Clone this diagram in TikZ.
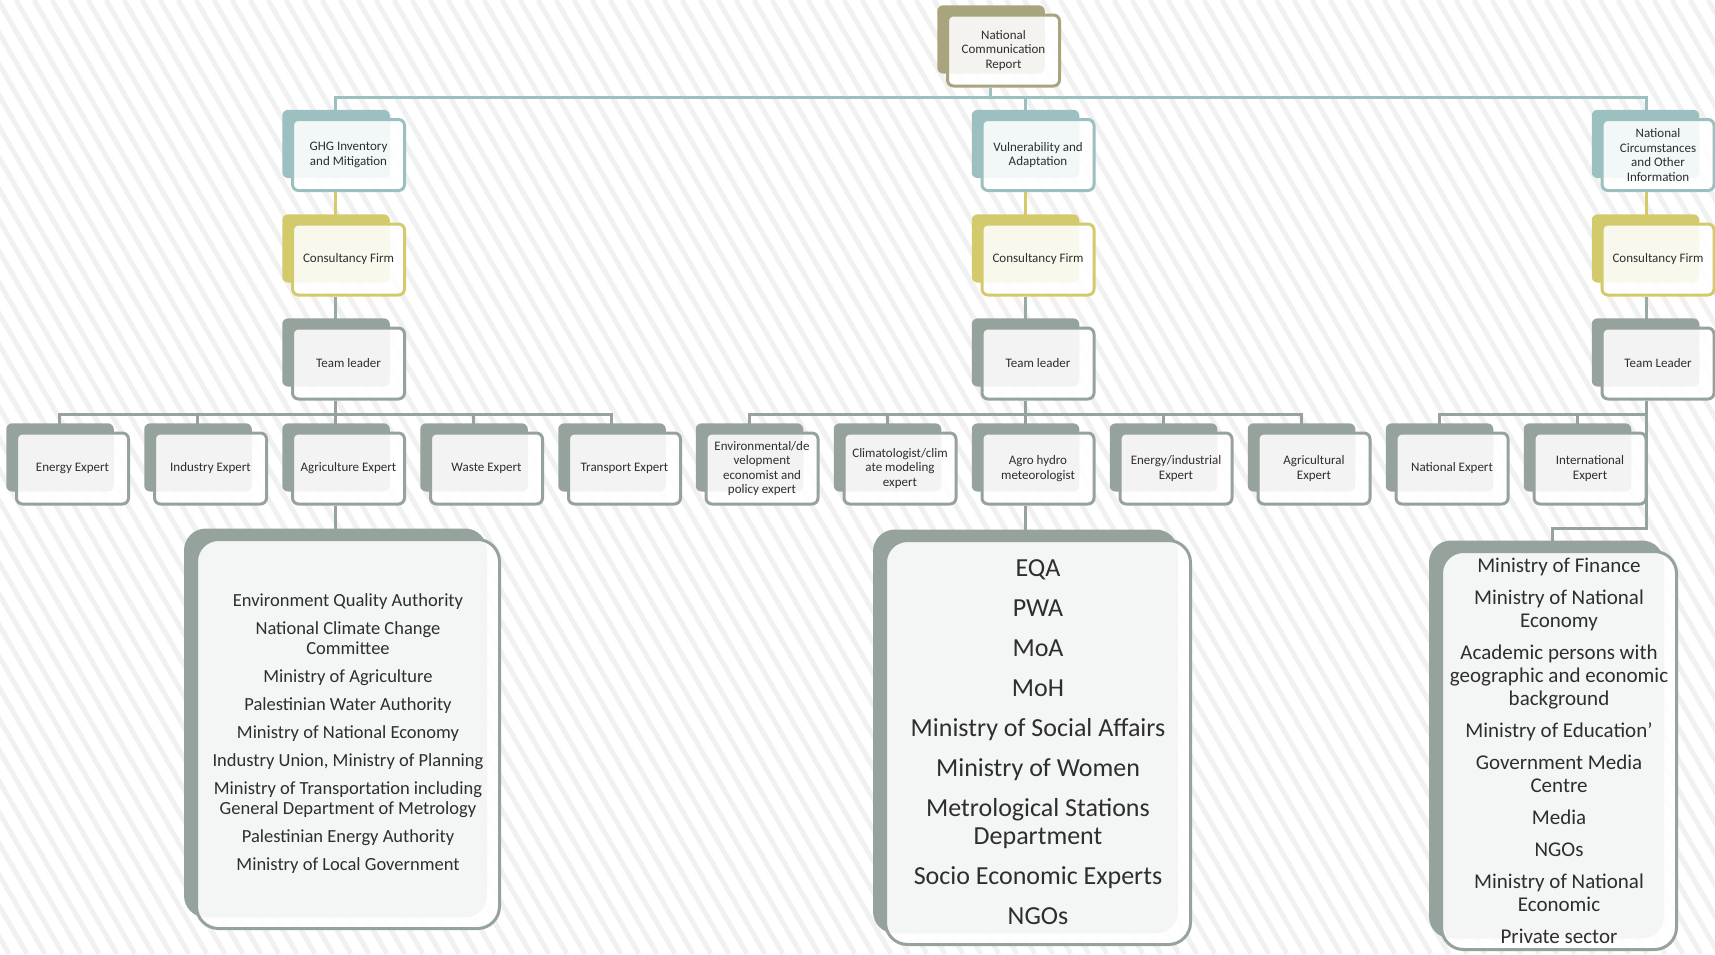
\documentclass[tikz,border=0pt]{standalone}
\usepackage{fontspec}
\setmainfont{Carlito}
\usetikzlibrary{shadows,calc}

\definecolor{olivebox}{HTML}{A8A47D}
\definecolor{tealbox}{HTML}{9CBFBF}
\definecolor{yellowbox}{HTML}{D3CB6B}
\definecolor{graybox}{HTML}{96A39C}
\definecolor{leadline}{HTML}{97AAA6}
\definecolor{stripecol}{HTML}{F1F1F1}
\definecolor{inktext}{HTML}{2E2E2E}

\pgfdeclarelayer{stripes}
\pgfdeclarelayer{wires}
\pgfsetlayers{stripes,wires,main}

\tikzset{
  card/.style={rectangle, rounded corners=6pt, draw=#1, line width=3pt,
    fill=white, fill opacity=0.88, text opacity=1, text=inktext,
    minimum width=112pt, minimum height=71pt, inner sep=2pt, align=center,
    font=\fontsize{13}{14.5}\selectfont,
    general shadow={fill=#1, fill opacity=1, draw=none,
      shadow xshift=-13pt, shadow yshift=11.5pt, shadow scale=0.96}},
  panel/.style={rectangle, rounded corners=22pt, draw=graybox, line width=3pt,
    fill=white, fill opacity=0.9, text opacity=1, text=inktext,
    inner sep=2pt, align=center,
    general shadow={fill=graybox, fill opacity=1, draw=none,
      shadow xshift=-12.5pt, shadow yshift=11pt}},
  wire/.style={draw=#1, line width=3pt},
  stripe/.style={draw=stripecol, line width=5pt}
}

\begin{document}
\begin{tikzpicture}[x=1pt, y=-1pt]
  \useasboundingbox (0,0) rectangle (1715,954);
  \begin{pgfonlayer}{stripes}
    \begin{scope}
      \clip (0,0) rectangle (1715,954);
      \fill[white] (0,0) rectangle (1715,954);
      \foreach \s in {-560,-542,...,1720}
        \draw[stripe] (\s,0) -- ++(551,954);
    \end{scope}
  \end{pgfonlayer}

  \node[card=olivebox] (report) at (1003.5,50.5) {National\\Communication\\Report};

  \node[card=tealbox] (ghg) at (348.5,155) {GHG Inventory\\and Mitigation};
  \node[card=tealbox] (vuln) at (1038,155) {Vulnerability and\\Adaptation};
  \node[card=tealbox] (circ) at (1658,155) {National\\Circumstances\\and Other\\Information};

  \node[card=yellowbox] (firm1) at (348.5,259.5) {Consultancy Firm};
  \node[card=yellowbox] (firm2) at (1038,259.5) {Consultancy Firm};
  \node[card=yellowbox] (firm3) at (1658,259.5) {Consultancy Firm};

  \node[card=graybox] (lead1) at (348.5,363.5) {Team leader};
  \node[card=graybox] (lead2) at (1038,363.5) {Team leader};
  \node[card=graybox] (lead3) at (1658,363.5) {Team Leader};

  \node[card=graybox] (energy) at (72.5,468.5) {Energy Expert};
  \node[card=graybox] (industry) at (210.5,468.5) {Industry Expert};
  \node[card=graybox] (agri) at (348.5,468.5) {Agriculture Expert};
  \node[card=graybox] (waste) at (486.5,468.5) {Waste Expert};
  \node[card=graybox] (transport) at (624.5,468.5) {Transport Expert};

  \node[card=graybox] (envecon) at (762,468.5) {Environmental/de\\velopment\\economist and\\policy expert};
  \node[card=graybox] (climate) at (900,468.5) {Climatologist/clim\\ate modeling\\expert};
  \node[card=graybox] (agro) at (1038,468.5) {Agro hydro\\meteorologist};
  \node[card=graybox] (enind) at (1176,468.5) {Energy/industrial\\Expert};
  \node[card=graybox] (agrexp) at (1314,468.5) {Agricultural\\Expert};

  \node[card=graybox] (natexp) at (1452,468.5) {National Expert};
  \node[card=graybox] (intexp) at (1590,468.5) {International\\Expert};

  \node[panel, minimum width=303pt, minimum height=389pt,
    font=\fontsize{18.5}{20}\selectfont] (orgs1) at (348,734)
    {Environment Quality Authority\\[8pt]
     National Climate Change\\Committee\\[8pt]
     Ministry of Agriculture\\[8pt]
     Palestinian Water Authority\\[8pt]
     Ministry of National Economy\\[8pt]
     Industry Union, Ministry of Planning\\[8pt]
     Ministry of Transportation including\\General Department  of Metrology\\[8pt]
     Palestinian Energy Authority\\[8pt]
     Ministry of Local Government};

  \node[panel, minimum width=305pt, minimum height=404pt,
    font=\fontsize{26}{28}\selectfont] (orgs2) at (1038,742.5)
    {EQA\\[12pt]
     PWA\\[12pt]
     MoA\\[12pt]
     MoH\\[12pt]
     Ministry of Social Affairs\\[12pt]
     Ministry of Women\\[12pt]
     Metrological Stations\\Department\\[12pt]
     Socio Economic Experts\\[12pt]
     NGOs};

  \node[panel, minimum width=235pt, minimum height=398pt,
    font=\fontsize{21}{23}\selectfont] (orgs3) at (1559,750.5)
    {Ministry of Finance\\[9pt]
     Ministry of National\\Economy\\[9pt]
     Academic persons with\\geographic and economic\\background\\[9pt]
     Ministry of Education’\\[9pt]
     Government Media\\Centre\\[9pt]
     Media\\[9pt]
     NGOs\\[9pt]
     Ministry of National\\Economic\\[9pt]
     Private sector};

  \begin{pgfonlayer}{wires}
    \draw[wire=tealbox] ([xshift=-13pt]report.south) -- ++(0,10) -| ([xshift=-13pt]ghg.north);
    \draw[wire=tealbox] ([xshift=-13pt]report.south) -- ++(0,10) -| ([xshift=-13pt]vuln.north);
    \draw[wire=tealbox] ([xshift=-13pt]report.south) -- ++(0,10) -| ([xshift=-12pt]circ.north);

    \draw[wire=yellowbox] ([xshift=-13pt]ghg.south) -- ([xshift=-13pt]firm1.north);
    \draw[wire=yellowbox] ([xshift=-13pt]vuln.south) -- ([xshift=-13pt]firm2.north);
    \draw[wire=yellowbox] ([xshift=-12pt]circ.south) -- ([xshift=-12pt]firm3.north);

    \draw[wire=leadline] ([xshift=-13pt]firm1.south) -- ([xshift=-13pt]lead1.north);
    \draw[wire=leadline] ([xshift=-13pt]firm2.south) -- ([xshift=-13pt]lead2.north);
    \draw[wire=leadline] ([xshift=-12pt]firm3.south) -- ([xshift=-12pt]lead3.north);

    \draw[wire=graybox] ([xshift=-13pt]lead1.south) -- ++(0,14) -| ([xshift=-13pt]energy.north);
    \draw[wire=graybox] ([xshift=-13pt]lead1.south) -- ++(0,14) -| ([xshift=-13pt]industry.north);
    \draw[wire=graybox] ([xshift=-13pt]lead1.south) -- ([xshift=-13pt]agri.north);
    \draw[wire=graybox] ([xshift=-13pt]lead1.south) -- ++(0,14) -| ([xshift=-13pt]waste.north);
    \draw[wire=graybox] ([xshift=-13pt]lead1.south) -- ++(0,14) -| ([xshift=-13pt]transport.north);

    \draw[wire=graybox] ([xshift=-13pt]lead2.south) -- ++(0,14) -| ([xshift=-13pt]envecon.north);
    \draw[wire=graybox] ([xshift=-13pt]lead2.south) -- ++(0,14) -| ([xshift=-13pt]climate.north);
    \draw[wire=graybox] ([xshift=-13pt]lead2.south) -- ([xshift=-13pt]agro.north);
    \draw[wire=graybox] ([xshift=-13pt]lead2.south) -- ++(0,14) -| ([xshift=-13pt]enind.north);
    \draw[wire=graybox] ([xshift=-13pt]lead2.south) -- ++(0,14) -| ([xshift=-13pt]agrexp.north);

    \draw[wire=graybox] ([xshift=-12pt]lead3.south) -- ++(0,14) -| ([xshift=-13pt]natexp.north);
    \draw[wire=graybox] ([xshift=-12pt]lead3.south) -- ++(0,14) -| ([xshift=-13pt]intexp.north);
    \draw[wire=graybox] ([xshift=-12pt]lead3.south) -- ++(0,128) -| ([xshift=-7pt]orgs3.north);

    \draw[wire=graybox] ([xshift=-13pt]agri.south) -- ([xshift=-13pt]agri.south |- orgs1.north);
    \draw[wire=graybox] ([xshift=-13pt]agro.south) -- ([xshift=-13pt]agro.south |- orgs2.north);
  \end{pgfonlayer}
\end{tikzpicture}
\end{document}
